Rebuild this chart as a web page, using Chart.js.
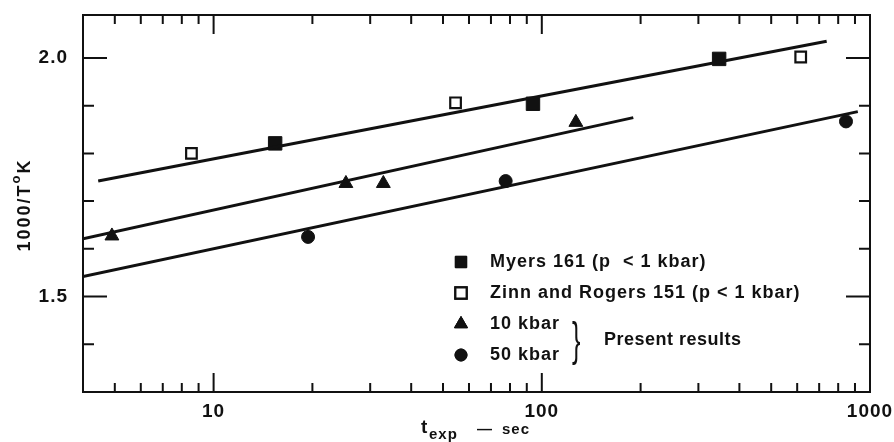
<!DOCTYPE html>
<html>
<head>
<meta charset="utf-8">
<script src="https://cdn.jsdelivr.net/npm/chart.js@4.4.0/dist/chart.umd.min.js"></script>
<style>
  html, body { margin: 0; padding: 0; background: #fff; }
  #wrap { width: 894px; height: 442px; }
</style>
</head>
<body>
<div id="wrap"><canvas id="tempGraph" width="894" height="442"></canvas></div>
<script>
// measured points (t in sec, 1000/T in K^-1)
const myersT = [15.4, 94, 347];
const myersY = [1.821, 1.904, 1.998];
const zinnT = [8.56, 54.6, 615];
const zinnY = [1.80, 1.906, 2.002];
const kbar10T = [4.9, 25.3, 32.9, 127];
const kbar10Y = [1.627, 1.737, 1.737, 1.865];
const kbar50T = [19.4, 77.6, 845];
const kbar50Y = [1.625, 1.742, 1.867];

// fitted lines, end points
const fitLowT = [4.45, 738];
const fitLowY = [1.742, 2.035];
const fit10T = [4, 190];
const fit10Y = [1.621, 1.875];
const fit50T = [4, 918];
const fit50Y = [1.542, 1.8875];

// axis ticks
const xLabels = [10, 100, 1000];
const xMinor = [5, 6, 7, 8, 9, 20, 30, 40, 50, 60, 70, 80, 90, 200, 300, 400, 500, 600, 700, 800, 900];
const yLabels = [1.5, 2.0];
const yMinor = [1.4, 1.6, 1.7, 1.8, 1.9];

const legendItems = [
  { text: "Myers 161 (p  < 1 kbar)", style: "rect", fill: true },
  { text: "Zinn and Rogers 151 (p < 1 kbar)", style: "rect", fill: false },
  { text: "10 kbar", style: "triangle", fill: true },
  { text: "50 kbar", style: "circle", fill: true },
];

const pts = (xs, ys) => xs.map((x, i) => ({ x: x, y: ys[i] }));
const FONT = "'Liberation Sans', Arial, sans-serif";
const INK = "#111";

const fitLine = (xs, ys) => ({
  type: "line",
  data: pts(xs, ys),
  borderColor: INK,
  borderWidth: 3,
  pointRadius: 0,
  fill: false,
});

const marks = (xs, ys, style, r, filled) => ({
  type: "scatter",
  data: pts(xs, ys),
  pointStyle: style,
  pointRadius: r,
  pointHoverRadius: r,
  pointBackgroundColor: filled ? INK : "#fff",
  pointBorderColor: INK,
  pointBorderWidth: filled ? 1 : 2.2,
});

const framePlugin = {
  id: "frame",
  beforeDraw(chart) {
    chart.ctx.letterSpacing = "1px";
  },
  afterDraw(chart) {
    const ctx = chart.ctx;
    const a = chart.chartArea;
    const xs = chart.scales.x;
    const ys = chart.scales.y;
    ctx.save();
    ctx.strokeStyle = INK;
    ctx.lineWidth = 2;
    ctx.strokeRect(a.left, a.top, a.right - a.left, a.bottom - a.top);

    // inward ticks on all four sides
    ctx.beginPath();
    const xt = (v, len) => {
      const p = xs.getPixelForValue(v);
      ctx.moveTo(p, a.bottom); ctx.lineTo(p, a.bottom - len);
      ctx.moveTo(p, a.top); ctx.lineTo(p, a.top + len);
    };
    const yt = (v, len) => {
      const p = ys.getPixelForValue(v);
      ctx.moveTo(a.left, p); ctx.lineTo(a.left + len, p);
      ctx.moveTo(a.right, p); ctx.lineTo(a.right - len, p);
    };
    xMinor.forEach(v => xt(v, 9));
    xLabels.forEach(v => xt(v, 19));
    yMinor.forEach(v => yt(v, 11));
    yLabels.forEach(v => yt(v, 24));
    ctx.stroke();

    // legend
    ctx.letterSpacing = "1px";
    ctx.textBaseline = "middle";
    ctx.textAlign = "left";
    ctx.font = "bold 18px " + FONT;
    const rows = [262, 293, 324, 355];
    legendItems.forEach((it, i) => {
      const y = rows[i];
      const r = it.style === "triangle" ? 7.5 : it.style === "circle" ? 6 : 8;
      ctx.fillStyle = it.fill ? INK : "#fff";
      ctx.strokeStyle = INK;
      ctx.lineWidth = it.fill ? 1 : 2.2;
      Chart.helpers.drawPoint(ctx, { pointStyle: it.style, radius: r, borderWidth: ctx.lineWidth }, 461, y);
      ctx.fill();
      ctx.stroke();
      ctx.fillStyle = INK;
      ctx.fillText(it.text, 490, y);
    });
    ctx.letterSpacing = "0.5px";
    ctx.fillText("Present results", 604, 340);
    ctx.save();
    ctx.translate(572, 342);
    ctx.scale(0.55, 1);
    ctx.font = "46px " + FONT;
    ctx.fillText("}", 0, 0);
    ctx.restore();

    // x title with subscript
    ctx.letterSpacing = "1px";
    ctx.textBaseline = "alphabetic";
    ctx.font = "bold 19px " + FONT;
    ctx.fillText("t", 421, 433);
    ctx.font = "bold 15px " + FONT;
    ctx.fillText("exp", 429, 439);
    ctx.fillText("\u2014", 477, 434);
    ctx.fillText("sec", 502, 434);

    // y title, superscript o before K
    ctx.translate(25, 205);
    ctx.rotate(-Math.PI / 2);
    ctx.textBaseline = "middle";
    ctx.letterSpacing = "2px";
    ctx.font = "bold 18px " + FONT;
    const main = "1000/T";
    const wMain = ctx.measureText(main).width;
    ctx.font = "bold 13px " + FONT;
    const wSup = ctx.measureText("o").width;
    ctx.font = "bold 18px " + FONT;
    const wK = ctx.measureText("K").width;
    let x0 = -(wMain + wSup + wK) / 2;
    ctx.fillText(main, x0, 0);
    ctx.font = "bold 13px " + FONT;
    ctx.fillText("o", x0 + wMain, -9);
    ctx.font = "bold 18px " + FONT;
    ctx.fillText("K", x0 + wMain + wSup, 0);
    ctx.restore();
  },
};

const ctx = document.getElementById("tempGraph").getContext("2d");
new Chart(ctx, {
  data: {
    datasets: [
      fitLine(fitLowT, fitLowY),
      fitLine(fit10T, fit10Y),
      fitLine(fit50T, fit50Y),
      marks(myersT, myersY, "rect", 9.5, true),
      marks(zinnT, zinnY, "rect", 7.5, false),
      marks(kbar10T, kbar10Y, "triangle", 8, true),
      marks(kbar50T, kbar50Y, "circle", 6.5, true),
    ],
  },
  options: {
    responsive: false,
    animation: false,
    layout: { padding: { top: 15, right: 24, left: 0, bottom: 0 } },
    scales: {
      x: {
        type: "logarithmic",
        min: 4,
        max: 1000,
        grid: { display: false, drawTicks: false },
        border: { display: false },
        afterBuildTicks: (s) => { s.ticks = xLabels.map(v => ({ value: v })); },
        afterFit: (s) => { s.height = 50; s.paddingLeft = 0; s.paddingRight = 0; },
        ticks: {
          autoSkip: false,
          maxRotation: 0,
          padding: 8,
          color: INK,
          font: { family: FONT, size: 19, weight: "bold" },
          callback: (v) => String(v),
        },
      },
      y: {
        type: "linear",
        min: 1.3,
        max: 2.09,
        grid: { display: false, drawTicks: false },
        border: { display: false },
        afterBuildTicks: (s) => { s.ticks = yLabels.map(v => ({ value: v })); },
        afterFit: (s) => { s.width = 83; s.paddingTop = 0; s.paddingBottom = 0; },
        ticks: {
          autoSkip: false,
          padding: 15,
          color: INK,
          font: { family: FONT, size: 19, weight: "bold" },
          callback: (v) => v.toFixed(1),
        },
      },
    },
    plugins: {
      legend: { display: false },
      tooltip: { enabled: false },
    },
  },
  plugins: [framePlugin],
});
</script>
</body>
</html>
